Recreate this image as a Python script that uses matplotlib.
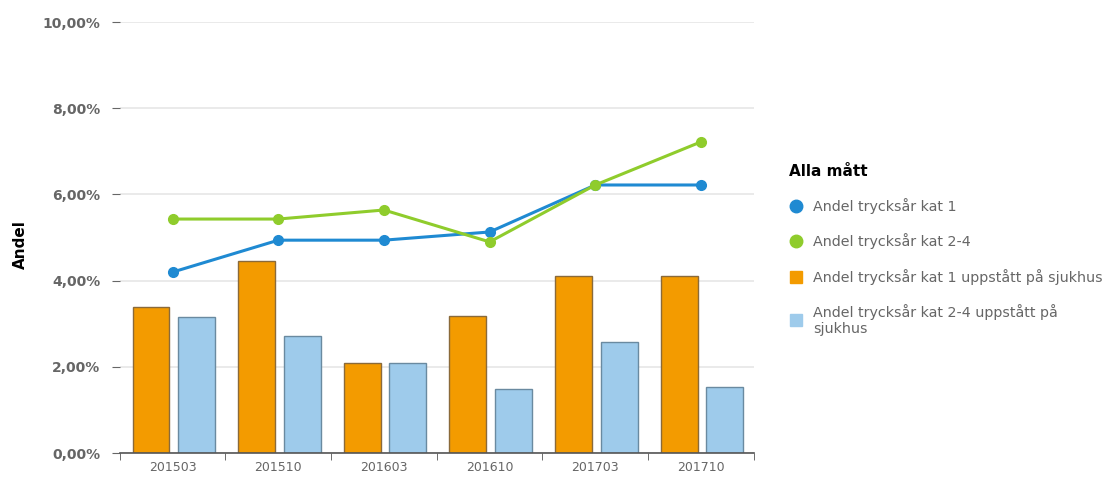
import numpy as np
import matplotlib.pyplot as plt
from matplotlib.lines import Line2D
from matplotlib.ticker import FuncFormatter

# data (percent)
periods = ['201503', '201510', '201603', '201610', '201703', '201710']
kat1 = [4.20, 4.94, 4.94, 5.13, 6.22, 6.22]
kat24 = [5.43, 5.43, 5.64, 4.90, 6.22, 7.22]
kat1_sjukhus = [3.39, 4.45, 2.10, 3.19, 4.11, 4.11]
kat24_sjukhus = [3.15, 2.71, 2.10, 1.48, 2.58, 1.54]

labels = ['Andel trycksår kat 1', 'Andel trycksår kat 2-4',
          'Andel trycksår kat 1 uppstått på sjukhus',
          'Andel trycksår kat 2-4 uppstått på\nsjukhus']

c_blue = '#1f8ad2'
c_green = '#8fcc2c'
c_orange = '#f39b00'
c_light = '#9ecbeb'
grey = '#666666'

fig = plt.figure(figsize=(11.2, 4.79), dpi=100)
ax = fig.add_axes([0.107, 0.054, 0.566, 0.9])

x = np.arange(len(periods))
w = 0.35
ax.bar(x - 0.205, kat1_sjukhus, w, color=c_orange, edgecolor='#8a6a3a', linewidth=1.0, zorder=2)
ax.bar(x + 0.225, kat24_sjukhus, w, color=c_light, edgecolor='#6a8aa0', linewidth=1.0, zorder=2)
ax.plot(x, kat1, color=c_blue, lw=2.2, marker='o', ms=7, zorder=3)
ax.plot(x, kat24, color=c_green, lw=2.2, marker='o', ms=7, zorder=4)

ax.set_xlim(-0.5, len(periods) - 0.5)
ax.set_ylim(0, 10)
ax.set_yticks(np.arange(0, 11, 2))
ax.yaxis.set_major_formatter(FuncFormatter(lambda v, p: f'{v:.2f}%'.replace('.', ',')))
ax.grid(axis='y', color='#e6e6e6', lw=1.2, zorder=0)
ax.set_axisbelow(True)

for s in ['top', 'right', 'left']:
    ax.spines[s].set_visible(False)
ax.spines['bottom'].set_color('#555555')
ax.spines['bottom'].set_linewidth(1.2)

ax.set_xticks(x)
ax.set_xticklabels(periods, color=grey, fontsize=9)
ax.set_xticks(np.arange(-0.5, len(periods)), minor=True)
ax.tick_params(axis='x', which='major', length=0, pad=6)
ax.tick_params(axis='x', which='minor', length=5, color='#555555', direction='out')
ax.tick_params(axis='y', length=6, color=grey, pad=8, labelsize=10, labelcolor=grey)
for t in ax.get_yticklabels():
    t.set_fontweight('bold')

fig.text(0.018, 0.49, 'Andel', rotation=90, fontsize=11, fontweight='bold', va='center', ha='center')

handles = [
    Line2D([], [], ls='', marker='o', ms=9, color=c_blue),
    Line2D([], [], ls='', marker='o', ms=9, color=c_green),
    Line2D([], [], ls='', marker='s', ms=9, color=c_orange),
    Line2D([], [], ls='', marker='s', ms=9, color=c_light),
]
leg = fig.legend(handles, labels, loc='upper left', bbox_to_anchor=(0.693, 0.685),
                 frameon=False, title='Alla mått', alignment='left',
                 fontsize=10.3, handlelength=1.0, handletextpad=0.7, labelspacing=1.35,
                 labelcolor=grey)
leg.get_title().set_fontweight('bold')
leg.get_title().set_fontsize(11)

fig.savefig('out.png', dpi=100)
